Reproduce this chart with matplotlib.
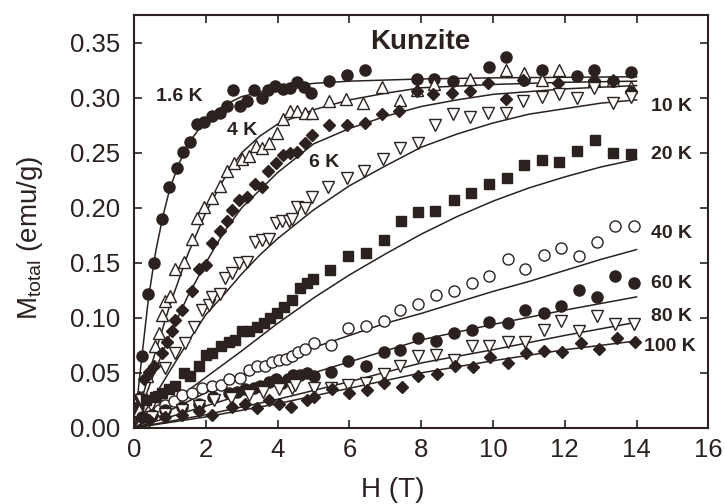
import matplotlib
matplotlib.use("Agg")
import matplotlib.pyplot as plt

INK = '#2b211e'
plt.rcParams['font.family'] = ['Liberation Sans', 'DejaVu Sans']
plt.rcParams['mathtext.default'] = 'regular'

# measured points, H (T) and M (emu/g)
h_16 = [0.11, 0.21, 0.40, 0.54, 0.77, 0.96, 1.19, 1.36, 1.56, 1.75, 1.95, 2.17, 2.38, 2.58, 2.75,
        2.95, 3.14, 3.34, 3.56, 3.74, 3.93, 4.14, 4.33, 4.54, 4.72, 4.93, 5.44, 5.93, 6.42, 7.88,
        8.36, 8.88, 9.88, 10.37, 10.85, 11.36, 12.34, 12.82, 13.34, 13.85]
m_16 = [0.019, 0.065, 0.122, 0.150, 0.190, 0.219, 0.236, 0.251, 0.260, 0.276, 0.278, 0.283, 0.286, 0.292, 0.307,
        0.292, 0.297, 0.307, 0.300, 0.307, 0.311, 0.308, 0.309, 0.314, 0.310, 0.304, 0.315, 0.321, 0.325, 0.317,
        0.317, 0.315, 0.328, 0.337, 0.316, 0.325, 0.320, 0.325, 0.315, 0.323]

h_4 = [0.13, 0.22, 0.36, 0.59, 0.69, 0.78, 0.87, 1.00, 1.15, 1.38, 1.60, 1.76, 1.94, 2.17, 2.40,
       2.58, 2.77, 3.00, 3.19, 3.40, 3.56, 3.77, 3.98, 4.14, 4.33, 4.54, 4.75, 4.95, 5.44, 5.91,
       6.39, 6.90, 7.40, 7.88, 8.36, 9.37, 10.37, 10.85, 11.36, 11.83, 12.82, 13.34, 13.85]
m_4 = [0.016, 0.028, 0.047, 0.074, 0.086, 0.103, 0.115, 0.120, 0.144, 0.151, 0.172, 0.191, 0.201, 0.209, 0.220,
       0.233, 0.241, 0.244, 0.247, 0.256, 0.254, 0.259, 0.268, 0.281, 0.288, 0.288, 0.286, 0.286, 0.297, 0.299,
       0.295, 0.310, 0.298, 0.307, 0.312, 0.317, 0.325, 0.322, 0.316, 0.325, 0.316, 0.316, 0.310]

h_6 = [0.13, 0.27, 0.41, 0.55, 0.78, 0.92, 1.06, 1.15, 1.34, 1.62, 1.80, 2.01, 2.17, 2.38, 2.59,
       2.73, 2.93, 3.15, 3.38, 3.55, 3.74, 3.96, 4.16, 4.35, 4.53, 4.76, 4.95, 5.44, 5.93, 6.44,
       6.90, 7.39, 7.88, 8.34, 8.85, 9.36, 9.87, 10.36, 10.84, 11.82, 12.81, 13.33, 13.84]
m_6 = [0.028, 0.044, 0.051, 0.056, 0.068, 0.078, 0.088, 0.098, 0.107, 0.124, 0.144, 0.148, 0.168, 0.179, 0.188,
       0.198, 0.207, 0.210, 0.222, 0.219, 0.233, 0.241, 0.248, 0.250, 0.251, 0.259, 0.266, 0.275, 0.275, 0.277,
       0.285, 0.288, 0.306, 0.303, 0.304, 0.306, 0.313, 0.299, 0.316, 0.313, 0.316, 0.315, 0.306]

h_10 = [0.18, 0.46, 0.69, 0.87, 1.15, 1.43, 1.66, 1.89, 2.08, 2.17, 2.38, 2.54, 2.73, 2.92, 3.15,
        3.36, 3.57, 3.75, 3.94, 4.12, 4.31, 4.39, 4.54, 4.76, 4.95, 5.41, 5.94, 6.41, 6.93, 7.41,
        7.92, 8.38, 8.88, 9.36, 9.87, 10.36, 10.84, 11.36, 11.83, 12.34, 12.82, 13.34, 13.85]
m_10 = [0.025, 0.021, 0.028, 0.054, 0.068, 0.077, 0.092, 0.107, 0.112, 0.119, 0.122, 0.136, 0.141, 0.150, 0.151,
        0.169, 0.171, 0.172, 0.186, 0.188, 0.188, 0.190, 0.201, 0.200, 0.210, 0.219, 0.227, 0.233, 0.244, 0.254,
        0.259, 0.275, 0.285, 0.282, 0.286, 0.286, 0.297, 0.301, 0.303, 0.300, 0.309, 0.295, 0.301]

h_20 = [0.32, 0.59, 0.78, 0.97, 1.15, 1.38, 1.57, 1.80, 1.99, 2.17, 2.41, 2.64, 2.82, 3.01, 3.20,
        3.43, 3.61, 3.80, 3.98, 4.17, 4.40, 4.63, 4.81, 4.98, 5.46, 5.97, 6.46, 6.95, 7.43, 7.92,
        8.39, 8.90, 9.39, 9.89, 10.39, 10.87, 11.36, 11.85, 12.35, 12.84, 13.34, 13.85]
m_20 = [0.025, 0.028, 0.032, 0.035, 0.038, 0.050, 0.047, 0.056, 0.066, 0.068, 0.074, 0.078, 0.080, 0.088, 0.088,
        0.092, 0.095, 0.100, 0.104, 0.110, 0.116, 0.127, 0.132, 0.135, 0.143, 0.156, 0.159, 0.171, 0.188, 0.196,
        0.197, 0.207, 0.213, 0.222, 0.227, 0.239, 0.243, 0.242, 0.252, 0.262, 0.250, 0.249]

h_40 = [0.69, 0.87, 1.11, 1.34, 1.60, 1.90, 2.17, 2.41, 2.64, 2.96, 3.20, 3.43, 3.66, 3.84, 4.03,
        4.22, 4.39, 4.58, 4.77, 5.00, 5.48, 5.97, 6.47, 6.97, 7.41, 7.92, 8.42, 8.90, 9.41, 9.90,
        10.41, 10.90, 11.41, 11.89, 12.41, 12.90, 13.41, 13.92]
m_40 = [0.016, 0.021, 0.024, 0.030, 0.032, 0.036, 0.038, 0.039, 0.044, 0.045, 0.053, 0.056, 0.056, 0.060, 0.062,
        0.063, 0.065, 0.069, 0.072, 0.077, 0.075, 0.091, 0.093, 0.097, 0.107, 0.113, 0.121, 0.124, 0.132, 0.138,
        0.153, 0.144, 0.157, 0.163, 0.156, 0.169, 0.183, 0.183]

h_60 = [0.22, 0.50, 0.87, 1.34, 1.80, 2.20, 2.64, 2.87, 3.10, 3.34, 3.52, 3.75, 3.94, 4.12, 4.30,
        4.44, 4.63, 4.81, 5.00, 5.48, 5.97, 6.47, 6.97, 7.41, 7.92, 8.42, 8.90, 9.41, 9.90, 10.41,
        10.90, 11.41, 11.89, 12.41, 12.90, 13.41, 13.92]
m_60 = [0.010, 0.012, 0.016, 0.019, 0.022, 0.028, 0.032, 0.033, 0.035, 0.036, 0.038, 0.042, 0.044, 0.041, 0.044,
        0.048, 0.048, 0.050, 0.047, 0.051, 0.061, 0.056, 0.069, 0.071, 0.082, 0.079, 0.086, 0.089, 0.096, 0.095,
        0.107, 0.104, 0.111, 0.125, 0.119, 0.138, 0.132]

h_80 = [0.50, 0.87, 1.34, 1.80, 2.22, 2.70, 3.20, 3.60, 4.03, 4.40, 4.49, 5.00, 5.48, 5.97, 6.47,
        6.97, 7.41, 7.92, 8.42, 8.90, 9.41, 9.90, 10.41, 10.90, 11.41, 11.89, 12.41, 12.90, 13.41, 13.92]
m_80 = [0.010, 0.013, 0.016, 0.020, 0.025, 0.027, 0.030, 0.033, 0.035, 0.036, 0.039, 0.036, 0.036, 0.039, 0.041,
        0.049, 0.056, 0.065, 0.066, 0.062, 0.074, 0.074, 0.078, 0.078, 0.089, 0.097, 0.088, 0.102, 0.094, 0.094]

h_100 = [0.41, 0.87, 1.34, 1.80, 2.17, 2.73, 3.10, 3.43, 3.75, 4.03, 4.36, 4.81, 5.00, 5.51, 6.00,
         6.50, 6.97, 7.46, 7.92, 8.45, 8.94, 9.44, 9.92, 10.43, 10.92, 11.42, 11.92, 12.45, 12.94, 13.45, 13.97]
m_100 = [0.007, 0.010, 0.012, 0.015, 0.012, 0.019, 0.022, 0.018, 0.025, 0.022, 0.019, 0.025, 0.028, 0.035, 0.032,
         0.034, 0.041, 0.037, 0.047, 0.049, 0.056, 0.055, 0.064, 0.059, 0.068, 0.070, 0.069, 0.077, 0.072, 0.082, 0.078]

# fitted curves
fit_16_h = [0, 0.2, 0.4, 0.6, 0.8, 1.0, 1.25, 1.5, 2.0, 2.5, 3.0, 4.0, 5.0, 6.0, 8.0, 10.0, 14.0]
fit_16_m = [0, 0.060, 0.118, 0.160, 0.192, 0.218, 0.240, 0.258, 0.280, 0.293, 0.301, 0.309, 0.313, 0.315, 0.317, 0.318, 0.319]
fit_4_h = [0, 0.25, 0.5, 1.0, 1.5, 2.0, 2.5, 3.0, 3.5, 4.0, 5.0, 6.0, 7.0, 8.0, 10.0, 12.0, 14.0]
fit_4_m = [0, 0.030, 0.059, 0.112, 0.158, 0.196, 0.226, 0.250, 0.265, 0.276, 0.289, 0.298, 0.304, 0.309, 0.312, 0.314, 0.315]
fit_6_h = [0, 0.5, 1.0, 1.5, 2.0, 2.5, 3.0, 3.5, 4.0, 5.0, 6.0, 7.0, 8.0, 9.0, 10.0, 12.0, 14.0]
fit_6_m = [0, 0.045, 0.085, 0.120, 0.150, 0.178, 0.200, 0.216, 0.232, 0.258, 0.272, 0.283, 0.292, 0.298, 0.303, 0.308, 0.311]
fit_10_h = [0, 0.5, 1.0, 1.5, 2.0, 2.5, 3.0, 3.5, 4.0, 5.0, 6.0, 7.0, 8.0, 9.0, 10.0, 11.0, 12.0, 13.0, 14.0]
fit_10_m = [0, 0.025, 0.052, 0.078, 0.103, 0.121, 0.140, 0.157, 0.172, 0.198, 0.220, 0.238, 0.255, 0.267, 0.277,
            0.285, 0.290, 0.295, 0.298]
fit_20_h = [0, 0.5, 1.0, 1.5, 2.0, 3.0, 4.0, 5.0, 6.0, 7.0, 8.0, 9.0, 10.0, 11.0, 12.0, 13.0, 14.0]
fit_20_m = [0, 0.010, 0.022, 0.034, 0.046, 0.070, 0.095, 0.118, 0.139, 0.158, 0.176, 0.192, 0.206, 0.218, 0.228, 0.237, 0.244]
fit_40_h = [0, 1, 2, 3, 4, 5, 6, 7, 8, 9, 10, 11, 12, 13, 14]
fit_40_m = [0, 0.016, 0.032, 0.047, 0.061, 0.073, 0.084, 0.095, 0.104, 0.114, 0.124, 0.133, 0.143, 0.153, 0.162]
fit_60_h = [0, 2, 4, 6, 8, 10, 12, 14]
fit_60_m = [0, 0.020, 0.040, 0.060, 0.080, 0.094, 0.107, 0.119]
fit_80_h = [0, 2, 4, 6, 8, 10, 12, 14]
fit_80_m = [0, 0.012, 0.026, 0.042, 0.059, 0.071, 0.084, 0.096]
fit_100_h = [0, 2, 4, 6, 8, 10, 12, 14]
fit_100_m = [0, 0.010, 0.022, 0.036, 0.050, 0.061, 0.071, 0.079]

temp_labels = ['1.6 K', '4 K', '6 K', '10 K', '20 K', '40 K', '60 K', '80 K', '100 K']

fig = plt.figure(figsize=(7.25, 5.04), dpi=100)
ax = fig.add_axes([0.185, 0.151, 0.792, 0.819])

fits = [(fit_16_h, fit_16_m), (fit_4_h, fit_4_m), (fit_6_h, fit_6_m), (fit_10_h, fit_10_m),
        (fit_20_h, fit_20_m), (fit_40_h, fit_40_m), (fit_60_h, fit_60_m), (fit_80_h, fit_80_m),
        (fit_100_h, fit_100_m)]
for fh, fm in fits:
    ax.plot(fh, fm, color=INK, lw=1.1, zorder=2)

# (h, m, marker, size, filled)
series = [(h_16, m_16, 'o', 8, True), (h_4, m_4, '^', 8.5, False), (h_6, m_6, 'D', 6.5, True),
          (h_10, m_10, 'v', 8.5, False), (h_20, m_20, 's', 6.5, True), (h_40, m_40, 'o', 8, False),
          (h_60, m_60, 'o', 8, True), (h_80, m_80, 'v', 8.5, False), (h_100, m_100, 'D', 6.5, True)]
for h, m, mk, ms, filled in series:
    ax.plot(h, m, ls='none', marker=mk, ms=ms, mec=INK, mew=1.0,
            mfc=INK if filled else 'white', zorder=3)

# curve labels
label_pos = [(1.25, 0.301), (3.0, 0.270), (5.3, 0.241), (14.98, 0.292), (14.98, 0.248),
             (14.98, 0.177), (14.98, 0.131), (14.98, 0.101), (14.92, 0.074)]
for txt, (lx, ly) in zip(temp_labels, label_pos):
    ax.text(lx, ly, txt, fontsize=14, fontweight='bold', color=INK, ha='center', va='center', zorder=5)

ax.text(7.97, 0.351, 'Kunzite', fontsize=20, fontweight='bold', color=INK, ha='center', va='center')

ax.set_xlim(0, 16)
ax.set_ylim(0, 0.375)
ax.set_xticks(range(0, 17, 2))
ax.set_yticks([0.00, 0.05, 0.10, 0.15, 0.20, 0.25, 0.30, 0.35])
ax.set_yticklabels(['0.00', '0.05', '0.10', '0.15', '0.20', '0.25', '0.30', '0.35'])
ax.tick_params(direction='in', top=True, right=True, length=6, width=1.2, colors=INK,
               labelsize=18.5, labelcolor=INK)
ax.tick_params(axis='x', pad=7)
ax.tick_params(axis='y', pad=10)
for sp in ax.spines.values():
    sp.set_linewidth(1.5)
    sp.set_color(INK)

ax.set_xlabel('H (T)', fontsize=20, color=INK)
ax.set_ylabel('M$_{total}$ (emu/g)', fontsize=20, color=INK)
ax.xaxis.set_label_coords(0.45, -0.118)
ax.yaxis.set_label_coords(-0.155, 0.46)

fig.savefig('out.png', dpi=100)
